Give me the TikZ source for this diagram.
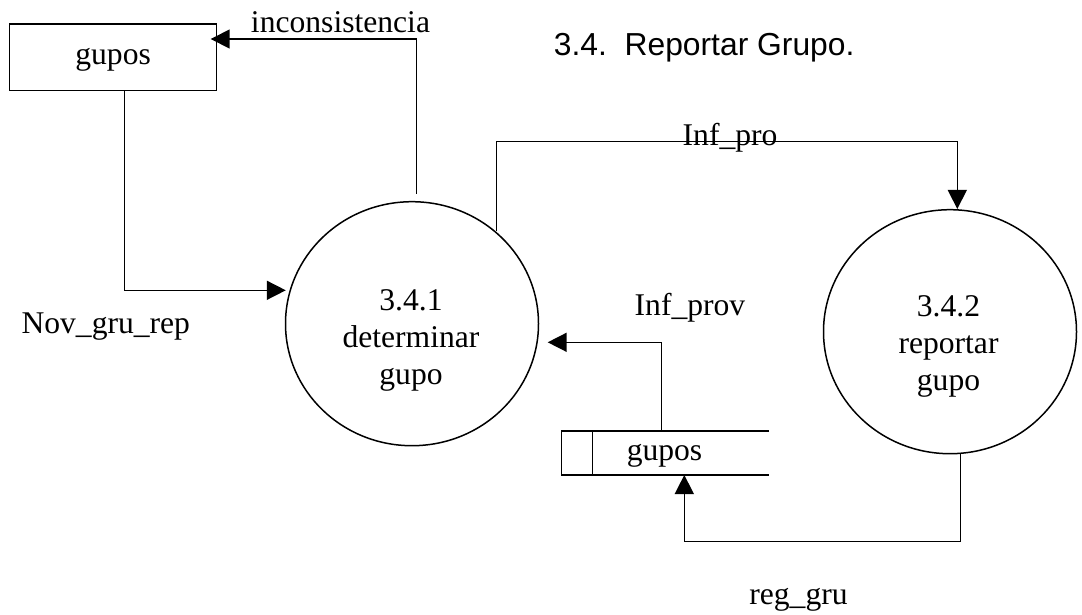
\documentclass[tikz,border=0pt]{standalone}
\usepackage{fontspec}
\setmainfont{Liberation Serif}
\newfontfamily\arialf{Liberation Sans}
\usetikzlibrary{arrows.meta,shapes.geometric}
\begin{document}
\begin{tikzpicture}[x=1pt,y=-1pt,
  ln/.style={line width=1.5pt},
  flow/.style={ln,-{Triangle[length=19pt,width=19pt]}},
  lbl/.style={font=\fontsize{31.6}{37}\selectfont, inner sep=0pt, anchor=base},
  proc/.style={ellipse, draw, ln, minimum width=253pt, minimum height=244pt, inner sep=0pt},
  ptext/.style={font=\fontsize{31.6}{37}\selectfont, inner sep=0pt, align=center},
  ]
\useasboundingbox (0,0) rectangle (1082,614);

% external entity
\node[draw, ln, minimum width=207.2pt, minimum height=66.7pt, inner sep=0pt] (gup1) at (112.9,57.35) {};
\node[lbl] (gup1t) at (113.1,64) {gupos};

% processes
\node[proc] (p1) at (412,323.7) {};
\node[ptext] (p1t) at (411,340.5) {3.4.1\\determinar\\gupo};
\node[proc] (p2) at (950,331.7) {};
\node[ptext] (p2t) at (948.5,346.5) {3.4.2\\reportar\\gupo};

% data store
\node[minimum width=207.3pt, minimum height=44pt, inner sep=0pt, outer sep=0pt] (st) at (665.35,453) {};
\draw[ln] (st.north east) -- (st.north west) -- (st.south west) -- (st.south east);
\draw[ln] ([shift={(30.6,0)}]st.north west) -- ([shift={(30.6,0)}]st.south west);
\node[lbl] (stt) at (664.5,460) {gupos};

% title and labels
\node[lbl, font=\arialf\fontsize{31.8}{37}\selectfont] (title) at (704.2,55) {3.4.\ \ Reportar Grupo.};
\node[lbl] (linc) at (340.5,32.3) {inconsistencia};
\node[lbl] (lpro) at (730.1,145) {Inf\_pro};
\node[lbl] (lprov) at (690,315) {Inf\_prov};
\node[lbl] (lnov) at (105.8,333.3) {Nov\_gru\_rep};
\node[lbl] (lreg) at (798.5,604) {reg\_gru};

% connector points
\coordinate (nvX) at (124.3,290.3);
\coordinate (nvT) at (285.8,290.3);
\coordinate (icT) at (210.7,39);
\coordinate (ipS) at (496.7,231);
\coordinate (ipC) at (957.3,141.7);
\coordinate (ivC) at (661.5,342.3);
\coordinate (ivT) at (547.7,342.3);
\coordinate (rgC) at (960.7,541.7);
\coordinate (rgD) at (684.3,541.7);

% connectors
\draw[flow] (gup1.south -| nvX) -- (nvX) -- (nvT);
\draw[flow] ([shift={(4.7,-7.4)}]p1.north) |- (icT);
\draw[flow] (ipS) |- (ipC) -- (ipC |- p2.north);
\draw[flow] (st.north -| ivC) -- (ivC) -- (ivT);
\draw[flow] ([shift={(10.7,0)}]p2.south) -- (rgC) -- (rgD) -- (st.south -| rgD);
\end{tikzpicture}
\end{document}
